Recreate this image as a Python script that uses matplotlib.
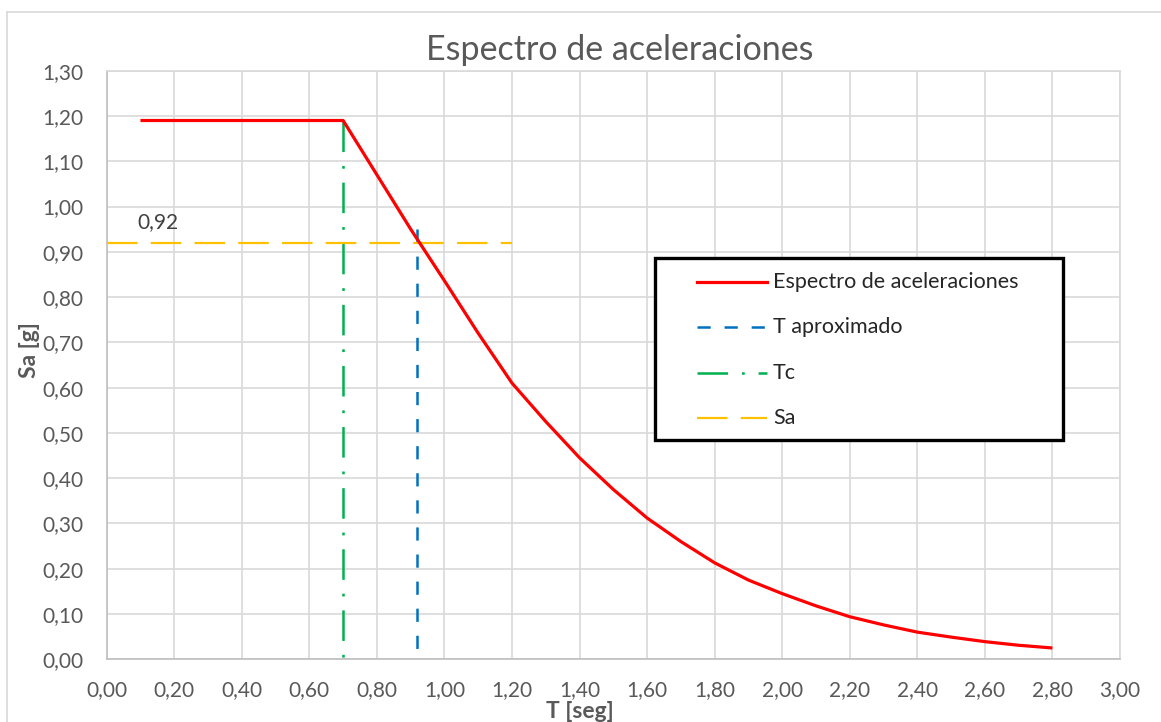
import matplotlib
matplotlib.use("Agg")
import matplotlib.pyplot as plt
from matplotlib.lines import Line2D
from matplotlib.patches import Rectangle

# Elastic response spectrum (period in s, spectral acceleration in g)
T_vals = [0.1, 0.2, 0.3, 0.4, 0.5, 0.6, 0.7, 0.8, 0.9, 1.0, 1.1, 1.2, 1.3, 1.4,
          1.5, 1.6, 1.7, 1.8, 1.9, 2.0, 2.1, 2.2, 2.3, 2.4, 2.5, 2.6, 2.7, 2.8]
Sa_vals = [1.19, 1.19, 1.19, 1.19, 1.19, 1.19, 1.19, 1.07, 0.95, 0.836, 0.72, 0.61,
           0.525, 0.445, 0.375, 0.312, 0.26, 0.213, 0.175, 0.145, 0.118, 0.094,
           0.076, 0.060, 0.049, 0.039, 0.031, 0.025]

T_approx = 0.92          # approximate fundamental period
T_approx_top = 0.95
Tc = 0.70                # corner period
Tc_top = 1.19
Sa_design = 0.92         # design spectral acceleration
Sa_line_end = 1.20

x_ticks = [i * 0.2 for i in range(16)]
y_ticks = [i * 0.1 for i in range(14)]

title = "Espectro de aceleraciones"
series_labels = ["Espectro de aceleraciones", "T aproximado", "Tc", "Sa"]

RED, BLUE, GREEN, YELLOW = "#FF0000", "#0070C0", "#00B050", "#FFC000"
GRID = "#D9D9D9"
TXT = "#595959"

plt.rcParams["font.family"] = ["Lato", "DejaVu Sans"]
plt.rcParams["lines.scale_dashes"] = False

W, H = 1161, 722
fig = plt.figure(figsize=(W / 100, H / 100), dpi=100)
fig.patch.set_facecolor("white")

# chart-area border
fig.add_artist(Line2D([7 / W, 7 / W], [0, 1 - 12 / H], transform=fig.transFigure,
                      color=GRID, lw=1.2))
fig.add_artist(Line2D([7 / W, 1], [1 - 12 / H, 1 - 12 / H], transform=fig.transFigure,
                      color=GRID, lw=1.2))

ax_l, ax_r, ax_t, ax_b = 106.7, 1120, 70.7, 659.3
ax = fig.add_axes([ax_l / W, 1 - ax_b / H, (ax_r - ax_l) / W, (ax_b - ax_t) / H])
ax.set_xlim(0, 3.0)
ax.set_ylim(0, 1.3)
ax.set_xticks(x_ticks)
ax.set_yticks(y_ticks)
ax.set_xticklabels([f"{v:.2f}".replace(".", ",") for v in x_ticks])
ax.set_yticklabels([f"{v:.2f}".replace(".", ",") for v in y_ticks])
ax.tick_params(axis="y", length=0, labelsize=15, labelcolor=TXT, pad=17)
ax.tick_params(axis="x", length=0, labelsize=15, labelcolor=TXT, pad=15)
ax.grid(True, color=GRID, lw=1.2)
ax.set_axisbelow(True)
for s in ("top", "right"):
    ax.spines[s].set_color(GRID)
    ax.spines[s].set_linewidth(1.2)
for s in ("left", "bottom"):
    ax.spines[s].set_color("#BFBFBF")
    ax.spines[s].set_linewidth(1.2)

# reference lines (vertical ones drawn top-down so the pattern starts at the top)
ax.plot([Tc, Tc], [Tc_top, 0], color=GREEN, lw=1.8, dashes=(22, 10, 2, 10), zorder=3)
ax.plot([T_approx, T_approx], [T_approx_top, 0], color=BLUE, lw=1.8,
        dashes=(9.5, 10), zorder=3)
ax.plot([0, Sa_line_end], [Sa_design, Sa_design], color=YELLOW, lw=1.6,
        dashes=(22, 9.5), zorder=3)
ax.plot(T_vals, Sa_vals, color=RED, lw=2.3, solid_capstyle="butt", zorder=4)

ax.text(0.09, Sa_design + 0.045, f"{Sa_design:.2f}".replace(".", ","),
        fontsize=15, color="#404040", ha="left", va="center")

ax.set_xlabel("T [seg]", fontsize=16.5, fontweight="bold", color=TXT)
ax.set_ylabel("Sa [g]", fontsize=16.5, fontweight="bold", color=TXT)
ax.xaxis.set_label_coords((580 - ax_l) / (ax_r - ax_l), (ax_b - 711) / (ax_b - ax_t))
ax.yaxis.set_label_coords((30 - ax_l) / (ax_r - ax_l), (ax_b - 350) / (ax_b - ax_t))
ax.xaxis.label.set_va("center")
ax.yaxis.label.set_va("center")

fig.text(620 / W, 1 - 50 / H, title, fontsize=24.5, color=TXT, ha="center", va="center")

# legend box
lx0, ly0, lx1, ly1 = 655, 258, 1063, 440
fig.add_artist(Rectangle((lx0 / W, 1 - ly1 / H), (lx1 - lx0) / W, (ly1 - ly0) / H,
                         transform=fig.transFigure, facecolor="white",
                         edgecolor="black", lw=2.4, zorder=10))
styles = [
    dict(color=RED, lw=2.3),
    dict(color=BLUE, lw=1.8, dashes=(9.5, 10)),
    dict(color=GREEN, lw=1.8, dashes=(22, 10, 2, 10)),
    dict(color=YELLOW, lw=1.6, dashes=(22, 9.5)),
]
rows = [281.7, 327.3, 372.7, 418.3]
for lab, st, yy in zip(series_labels, styles, rows):
    fig.add_artist(Line2D([697 / W, 767 / W], [1 - yy / H, 1 - yy / H],
                          transform=fig.transFigure, zorder=11, **st))
    fig.text(773 / W, 1 - yy / H, lab, fontsize=15.5, color="#262626",
             ha="left", va="center", zorder=11)

fig.savefig("out.png", dpi=100)
